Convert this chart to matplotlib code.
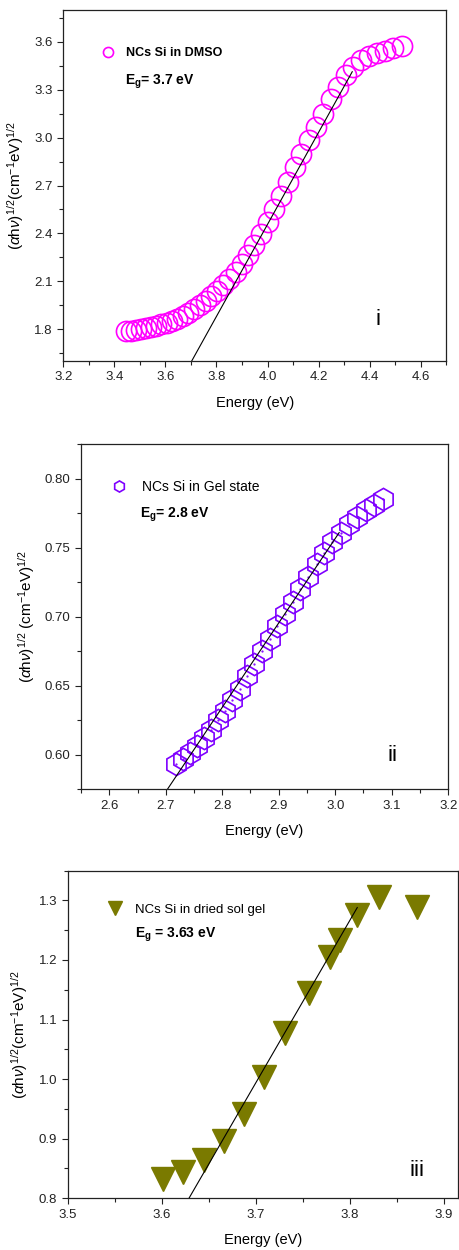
import matplotlib
matplotlib.use('Agg')
import matplotlib.pyplot as plt
from matplotlib.ticker import MultipleLocator

plt.rcParams['font.family'] = ['Liberation Sans', 'DejaVu Sans']
plt.rcParams['mathtext.fontset'] = 'custom'
plt.rcParams['mathtext.rm'] = 'Liberation Sans'
plt.rcParams['mathtext.it'] = 'Liberation Sans:italic'
plt.rcParams['mathtext.bf'] = 'Liberation Sans:bold'

# panel i : NCs Si in DMSO
energy_dmso = [3.444, 3.464, 3.483, 3.503, 3.523, 3.543, 3.563, 3.584, 3.605, 3.626,
               3.647, 3.669, 3.690, 3.713, 3.735, 3.758, 3.780, 3.804, 3.827, 3.851,
               3.875, 3.899, 3.924, 3.949, 3.974, 4.000, 4.026, 4.052, 4.079, 4.106,
               4.133, 4.161, 4.189, 4.218, 4.247, 4.276, 4.306, 4.336, 4.366, 4.397,
               4.429, 4.460, 4.493, 4.526]
tauc_dmso = [1.785, 1.789, 1.794, 1.799, 1.805, 1.812, 1.820, 1.829, 1.839, 1.851,
             1.865, 1.881, 1.900, 1.924, 1.950, 1.978, 2.008, 2.040, 2.075, 2.115,
             2.160, 2.210, 2.265, 2.325, 2.395, 2.470, 2.550, 2.635, 2.725, 2.815,
             2.900, 2.985, 3.065, 3.150, 3.240, 3.320, 3.390, 3.445, 3.487, 3.513,
             3.530, 3.545, 3.560, 3.575]
fit_dmso_x = [3.703, 4.332]
fit_dmso_y = [1.600, 3.413]

# panel ii : NCs Si in Gel state
energy_gel = [2.719, 2.731, 2.743, 2.756, 2.768, 2.780, 2.793, 2.805, 2.818, 2.831,
              2.844, 2.857, 2.870, 2.884, 2.897, 2.911, 2.925, 2.938, 2.952, 2.967,
              2.981, 2.995, 3.010, 3.024, 3.039, 3.054, 3.069, 3.085]
tauc_gel = [0.593, 0.597, 0.601, 0.606, 0.612, 0.618, 0.625, 0.632, 0.640, 0.648,
            0.657, 0.666, 0.675, 0.684, 0.693, 0.702, 0.711, 0.720, 0.729, 0.738,
            0.746, 0.754, 0.761, 0.767, 0.772, 0.777, 0.781, 0.785]
fit_gel_x = [2.703, 3.007]
fit_gel_y = [0.575, 0.761]

# panel iii : NCs Si in dried sol gel
energy_dried = [3.601, 3.623, 3.645, 3.666, 3.687, 3.709, 3.731, 3.757, 3.779, 3.790,
                3.808, 3.831, 3.872]
tauc_dried = [0.832, 0.844, 0.864, 0.896, 0.942, 1.004, 1.077, 1.144, 1.205, 1.233,
              1.275, 1.306, 1.289]
fit_dried_x = [3.629, 3.808]
fit_dried_y = [0.800, 1.288]

ylab = r'($\alpha$h$\nu$)$^{1/2}$(cm$^{-1}$eV)$^{1/2}$'
ylab2 = r'($\alpha$h$\nu$)$^{1/2}$ (cm$^{-1}$eV)$^{1/2}$'

fig = plt.figure(figsize=(4.59, 12.5), dpi=100)

ax1 = fig.add_axes([0.138, 0.7112, 0.834, 0.2808])
ax2 = fig.add_axes([0.1765, 0.3686, 0.800, 0.276])
ax3 = fig.add_axes([0.1475, 0.0414, 0.850, 0.2621])


def style(ax, xmaj, xmin, ymaj, ymin):
    ax.xaxis.set_major_locator(MultipleLocator(xmaj))
    ax.xaxis.set_minor_locator(MultipleLocator(xmin))
    ax.yaxis.set_major_locator(MultipleLocator(ymaj))
    ax.yaxis.set_minor_locator(MultipleLocator(ymin))
    ax.tick_params(which='both', direction='out', top=False, right=False,
                   labelsize=9.5, colors='#222222')
    ax.tick_params(which='major', length=4, width=0.8)
    ax.tick_params(which='minor', length=3, width=0.8)
    for s in ax.spines.values():
        s.set_linewidth(0.9)
        s.set_color('#222222')
    ax.set_xlabel('Energy (eV)', fontsize=10.5, labelpad=9)


# ---- i
ax1.plot(energy_dmso, tauc_dmso, 'o', ms=14.5, mfc='none', mec='#ff00ff', mew=1.2,
         label='NCs Si in DMSO')
ax1.plot(fit_dmso_x, fit_dmso_y, color='black', lw=0.8)
ax1.set_xlim(3.2, 4.7)
ax1.set_ylim(1.6, 3.8)
style(ax1, 0.2, 0.1, 0.3, 0.15)
ax1.set_ylabel(ylab, fontsize=11, labelpad=6)
ax1.legend(loc='center left', bbox_to_anchor=(0.0996, 0.877), frameon=False,
           handlelength=1.0, handletextpad=1.0, borderpad=0, borderaxespad=0,
           markerscale=0.5, prop={'weight': 'bold', 'size': 9})
ax1.text(0.161, 0.796, r'E$_{\mathbf{g}}$= 3.7 eV', transform=ax1.transAxes,
         fontsize=10, fontweight='bold', va='center', ha='left')
ax1.text(0.822, 0.117, 'i', transform=ax1.transAxes, fontsize=16,
         va='center', ha='center')

# ---- ii
ax2.plot(energy_gel, tauc_gel, 'h', ms=16, mfc='none', mec='#7f00ff', mew=1.2,
         label='NCs Si in Gel state')
ax2.plot(energy_gel, tauc_gel, '.', ms=1.2, color='#7f00ff')
ax2.plot(fit_gel_x, fit_gel_y, color='black', lw=0.8)
ax2.set_xlim(2.55, 3.2)
ax2.set_ylim(0.575, 0.825)
style(ax2, 0.1, 0.05, 0.05, 0.025)
ax2.yaxis.set_major_formatter(matplotlib.ticker.FormatStrFormatter('%.2f'))
ax2.set_ylabel(ylab2, fontsize=11, labelpad=6)
h2 = ax2.get_lines()[0]
ax2.legend(handles=[h2], loc='center left', bbox_to_anchor=(0.0855, 0.877), frameon=False,
           handlelength=1.0, handletextpad=1.1, borderpad=0, borderaxespad=0,
           markerscale=0.5, prop={'size': 10})
ax2.text(0.161, 0.795, r'E$_{\mathbf{g}}$= 2.8 eV', transform=ax2.transAxes,
         fontsize=10, fontweight='bold', va='center', ha='left')
ax2.text(0.849, 0.099, 'ii', transform=ax2.transAxes, fontsize=16,
         va='center', ha='center')

# ---- iii
ax3.plot(energy_dried, tauc_dried, 'v', ms=17, color='#7a7a00', mec='#7a7a00',
         label='NCs Si in dried sol gel')
ax3.plot(fit_dried_x, fit_dried_y, color='black', lw=0.8)
ax3.set_xlim(3.5, 3.915)
ax3.set_ylim(0.8, 1.35)
style(ax3, 0.1, 0.05, 0.1, 0.05)
ax3.set_ylabel(ylab, fontsize=11, labelpad=6)
ax3.legend(loc='center left', bbox_to_anchor=(0.104, 0.88), frameon=False,
           handlelength=1.0, handletextpad=1.0, borderpad=0, borderaxespad=0,
           markerscale=0.6, prop={'size': 9.5})
ax3.text(0.172, 0.804, r'E$_{\mathbf{g}}$ = 3.63 eV', transform=ax3.transAxes,
         fontsize=10, fontweight='bold', va='center', ha='left')
ax3.text(0.896, 0.086, 'iii', transform=ax3.transAxes, fontsize=16,
         va='center', ha='center')

fig.savefig('out.png', dpi=100)
